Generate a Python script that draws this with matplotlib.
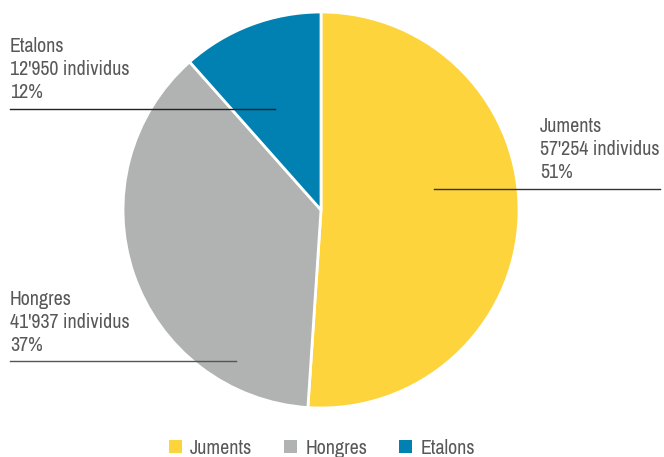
import matplotlib
matplotlib.use("Agg")
import matplotlib.pyplot as plt
from matplotlib.patches import Patch
from matplotlib import font_manager

names = sorted({f.name for f in font_manager.fontManager.ttflist})
cond = [n for n in names if ("Condensed" in n or "Narrow" in n)]
if cond:
    main = cond[0]
elif "Roboto" in names:
    main = "Roboto"
else:
    main = "DejaVu Sans"
plt.rcParams["font.family"] = [main, "DejaVu Sans"]

categories = ["Juments", "Hongres", "Etalons"]
values = [57254, 41937, 12950]
counts_labels = ["57'254", "41'937", "12'950"]
percents = ["51%", "37%", "12%"]
colors = ["#FDD43B", "#B1B3B3", "#0081B1"]

W, H = 664, 457
fig = plt.figure(figsize=(W / 100, H / 100), dpi=100)
ax = fig.add_axes([0, 0, 1, 1])
ax.set_xlim(0, W)
ax.set_ylim(0, H)
ax.set_aspect("equal")
ax.axis("off")

def Y(y):
    return H - y

ax.pie(values, colors=colors, startangle=90, counterclock=False,
       center=(321, Y(210)), radius=198,
       wedgeprops=dict(edgecolor="white", linewidth=2))
ax.set_xlim(0, W)
ax.set_ylim(0, H)

txtcol = "#585858"
renderer = fig.canvas.get_renderer()
t = ax.text(0, 0, "57'254 individus", fontsize=13.5)
w = t.get_window_extent(renderer).width
t.remove()
fs = min(15.5, 13.5 * 121 / w)

pos = {
    "Juments": (540, 132, 434, 660, 189, "#333333"),
    "Hongres": (10, 305, 10, 236, 361, "#555555"),
    "Etalons": (10, 52, 10, 275, 109, "#222222"),
}
for cat, cnt, pct in zip(categories, counts_labels, percents):
    tx, ty, x0, x1, ly, lc = pos[cat]
    lines = [cat, f"{cnt} individus", pct]
    for i, s in enumerate(lines):
        ax.text(tx, Y(ty + 23 * i), s, fontsize=fs, color=txtcol,
                ha="left", va="baseline")
    ax.plot([x0, x1], [Y(ly), Y(ly)], color=lc, linewidth=1)

handles = [Patch(facecolor=c, edgecolor="none") for c in colors]
leg = fig.legend(handles, categories, loc="center", bbox_to_anchor=(322 / W, 1 - 448 / H),
                 ncol=3, frameon=False, fontsize=fs, handlelength=0.65, handleheight=0.65,
                 handletextpad=0.4, columnspacing=1.6, labelcolor=txtcol)

fig.savefig("out.png", dpi=100)
